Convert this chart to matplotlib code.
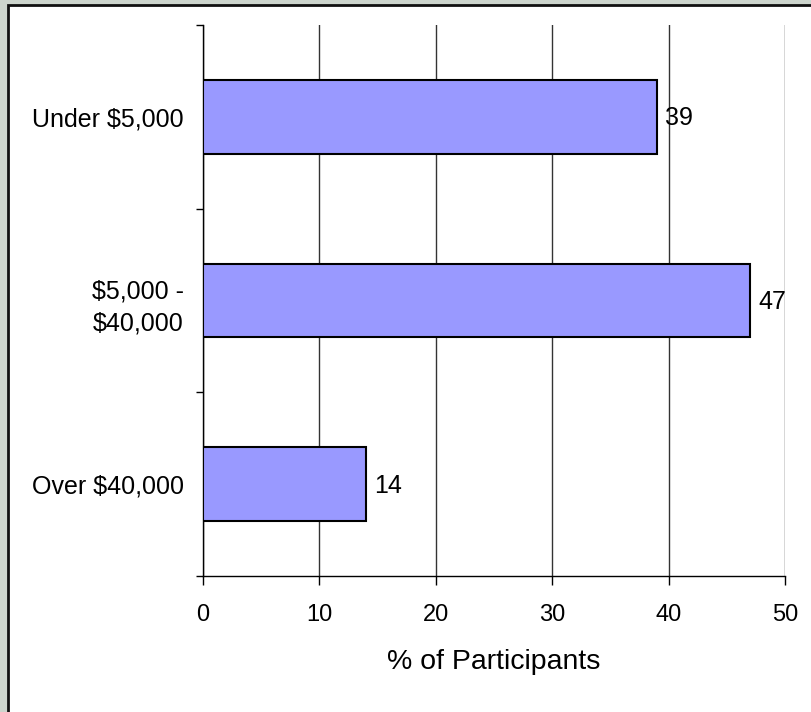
import matplotlib
matplotlib.use("Agg")
import matplotlib.pyplot as plt
from matplotlib.patches import Rectangle

categories = ["Under $5,000", "$5,000 -\n$40,000", "Over $40,000"]
values = [39, 47, 14]
xticks = [0, 10, 20, 30, 40, 50]

BAR = "#9999FF"
BACK = "#cdd5cd"
FS = 18

plt.rcParams["font.family"] = ["Liberation Sans", "DejaVu Sans"]

fig = plt.figure(figsize=(8.11, 7.12), dpi=100)
fig.patch.set_facecolor(BACK)
# white slide panel with dark border on left/top
fig.patches.append(Rectangle((8 / 811, -0.01), 1.0, 1 - 5 / 712 + 0.01,
                             transform=fig.transFigure, fc="white",
                             ec="#111111", lw=2, zorder=-5))

ax = fig.add_axes([203 / 811, 136 / 712, 582 / 811, 551 / 712])
ax.set_zorder(5)
ax.set_facecolor("none")
ypos = list(range(len(categories)))
ax.barh(ypos, values, height=0.4, color=BAR, edgecolor="black", lw=1.5,
        zorder=3)
for y, v in zip(ypos, values):
    ax.annotate(str(v), (v, y), xytext=(6, -1), textcoords="offset points",
                ha="left", va="center", fontsize=FS)

ax.set_xlim(0, 50)
ax.set_ylim(len(categories) - 0.5, -0.5)
ax.set_xticks(xticks)
ax.set_xticklabels([str(t) for t in xticks], fontsize=17)
ax.set_yticks(ypos)
ax.set_yticklabels(categories, fontsize=FS, ha="right",
                   multialignment="right", linespacing=1.45)
ax.set_yticks([-0.5, 0.5, 1.5, 2.5], minor=True)
ax.tick_params(axis="y", which="major", length=0, pad=14)
ax.tick_params(axis="y", which="minor", length=5, width=1, direction="out")
ax.tick_params(axis="x", length=6.5, width=1, pad=14)
ax.grid(axis="x", color="#333333", lw=1, zorder=0)
ax.set_axisbelow(True)
for s in ("top", "right"):
    ax.spines[s].set_visible(False)
ax.spines["left"].set_linewidth(1)
ax.spines["bottom"].set_linewidth(1)
ax.set_xlabel("% of Participants", fontsize=20.5, labelpad=16)

fig.savefig("out.png", dpi=100, facecolor=BACK)
